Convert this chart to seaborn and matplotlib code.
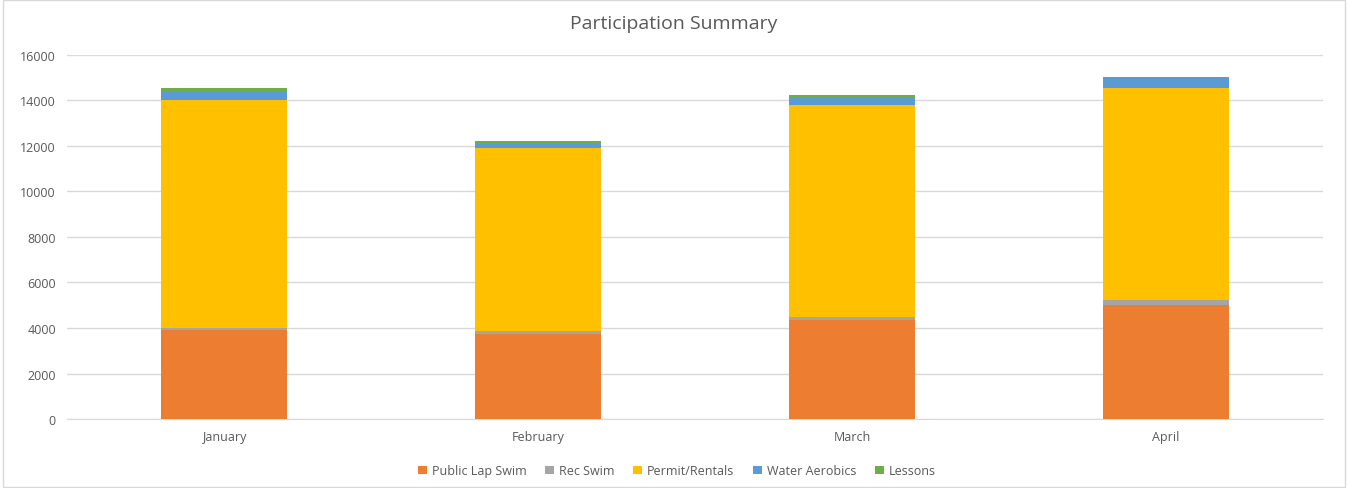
import numpy as np
import pandas as pd
import matplotlib.pyplot as plt
import seaborn as sns
from matplotlib.patches import Patch, Rectangle

# data
months = ["January", "February", "March", "April"]
public_lap = [3930, 3720, 4360, 5000]
rec_swim = [70, 130, 140, 240]
permit_rentals = [10040, 8060, 9300, 9310]
water_aerobics = [390, 220, 310, 480]
lessons = [130, 100, 130, 0]

series = ["Public Lap Swim", "Rec Swim", "Permit/Rentals", "Water Aerobics", "Lessons"]
colors = ["#ED7D31", "#A5A5A5", "#FFC000", "#5B9BD5", "#70AD47"]

df = pd.DataFrame({"month": months,
                   "Public Lap Swim": public_lap,
                   "Rec Swim": rec_swim,
                   "Permit/Rentals": permit_rentals,
                   "Water Aerobics": water_aerobics,
                   "Lessons": lessons})

# cumulative totals so stacked layers can be drawn back to front
cum = df[series].cumsum(axis=1)
cum["month"] = df["month"]

sns.set_style("white")
plt.rcParams["font.family"] = ["Open Sans", "DejaVu Sans"]

fig = plt.figure(figsize=(13.48, 4.89), dpi=100)
ax = fig.add_axes([0.0497, 0.1411, 0.9318, 0.7444])

for name, col in reversed(list(zip(series, colors))):
    sns.barplot(data=cum, x="month", y=name, color=col, width=0.4,
                saturation=1, ax=ax, zorder=3, linewidth=0)

ax.set_ylim(0, 16000)
ax.set_yticks(np.arange(0, 16001, 2000))
ax.set_xlim(-0.5, 3.5)
ax.yaxis.grid(True, color="#d9d9d9", linewidth=1, zorder=0)
ax.set_axisbelow(True)
for s in ["top", "right", "left"]:
    ax.spines[s].set_visible(False)
ax.spines["bottom"].set_color("#d9d9d9")
ax.tick_params(axis="both", length=0, labelsize=9, colors="#595959", pad=8)
ax.set_xlabel("")
ax.set_ylabel("")

fig.suptitle("Participation Summary", y=0.97, fontsize=14, color="#595959")

handles = [Patch(facecolor=c, edgecolor="none", label=s) for s, c in zip(series, colors)]
fig.legend(handles=handles, loc="center", bbox_to_anchor=(0.502, 0.035), ncol=5,
           frameon=False, fontsize=9, handlelength=0.7, handleheight=0.7,
           columnspacing=1.5, handletextpad=0.4, labelcolor="#595959")

fig.patches.append(Rectangle((0.002, 0.002), 0.996, 0.996, transform=fig.transFigure,
                             fill=False, edgecolor="#d9d9d9", linewidth=1))

fig.savefig("out.png", dpi=100)
